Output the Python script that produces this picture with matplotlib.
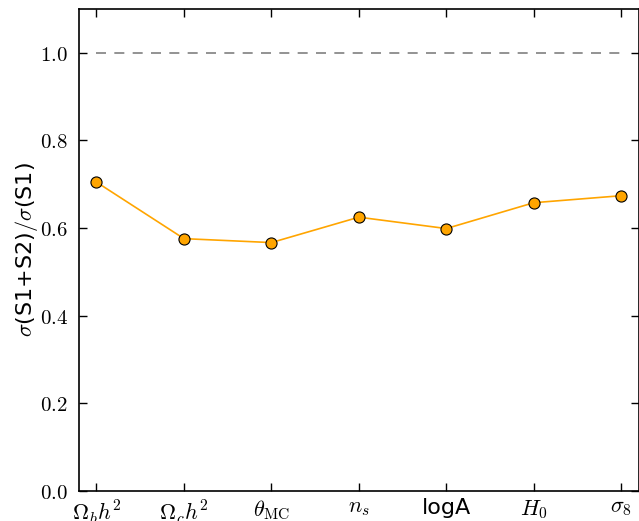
import numpy as np
import matplotlib
matplotlib.use("Agg")
import matplotlib.pyplot as plt

plt.rcParams['mathtext.fontset'] = 'cm'
plt.rcParams['font.family'] = 'DejaVu Sans'

# parametres et rapport des erreurs
params = [r'$\Omega_bh^2$', r'$\Omega_ch^2$', r'$\theta_{\rm MC}$', r'$n_s$', 'logA', r'$H_0$', r'$\sigma_8$']
ratio = [0.705, 0.576, 0.567, 0.625, 0.599, 0.658, 0.674]
yticks = [0.0, 0.2, 0.4, 0.6, 0.8, 1.0]

fig = plt.figure(figsize=(6.39, 5.21), dpi=100)
ax = fig.add_axes([0.1236, 0.0576, 0.876, 0.925])

x = np.arange(len(params))
ax.plot(x, ratio, '-', color='orange', lw=1.2, zorder=2)
ax.plot(x, ratio, 'o', color='orange', mec='black', mew=0.8, ms=8, zorder=3)
ax.plot([x[0], x[-1]], [1.0, 1.0], '--', color='gray', lw=1.2, dashes=(6, 5))

ax.set_xlim(-0.2, len(params) - 0.8)
ax.set_ylim(0, 1.1)
ax.set_xticks(x)
ax.set_xticklabels(params, fontsize=16)
ax.set_yticks(yticks)
ax.set_yticklabels([r'$%.1f$' % v for v in yticks], fontsize=15)
ax.set_ylabel(r'$\sigma$(S1+S2)$/\sigma$(S1)', fontsize=16, labelpad=0)

ax.tick_params(direction='in', top=True, right=True, length=6, width=1, pad=5)
ax.tick_params(axis='y', pad=8)
for s in ax.spines.values():
    s.set_linewidth(1.2)

fig.savefig('out.png', dpi=100)
